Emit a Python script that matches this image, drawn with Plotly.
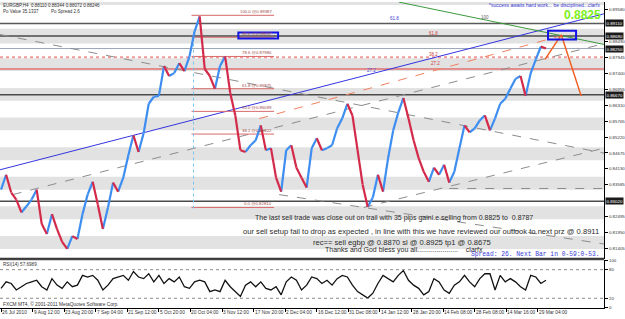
import plotly.graph_objects as go

# ---------------- texts ----------------
HEADER = "EURGBP,H4  0.88110 0.88344 0.88072 0.88246"
PO_VALUE = "Po Value 35.1337"
PO_SPREAD = "Po Spread 2.6"
MOTTO = "*success awaits hard work... be disciplined...clarfx"
BIG_PRICE = "0.8825"
MESSAGE = [
    "The last sell trade was close out on trail with 35 pips gaini.e selling from 0.8825 to  0.8787",
    "our sell setup fail to drop as expected , in line with this we have reviewed our outlook to next prz @ 0.8911",
    "rec== sell egbp @ 0.8870 sl @ 0.8925 tp1 @ 0.8675",
    "Thanks and God bless you all.....................    clarfx",
]
SPREAD = "Spread: 26. Next Bar in 0-59:0-53."
RSI_LABEL = "RSI(14) 57.6989"
COPYRIGHT = "FXCM MT4, \u00a9 2001-2011 MetaQuotes Software Corp."

# ---------------- series (H4 bar index from 26 Jul 2010) ----------------
bar_index = list(range(0, 1080, 10))
close = [
    0.8342, 0.8393, 0.8332, 0.8308, 0.8264, 0.8285, 0.8308, 0.8342, 0.8224, 0.8190,
    0.8258, 0.8207, 0.8163, 0.8139, 0.8183, 0.8173, 0.8258, 0.8325, 0.8369, 0.8291,
    0.8207, 0.8281, 0.8366, 0.8335, 0.8383, 0.8460, 0.8528, 0.8471, 0.8535, 0.8636,
    0.8660, 0.8663, 0.8765, 0.8731, 0.8741, 0.8775, 0.8748, 0.8798, 0.8883, 0.8935,
    0.8755, 0.8731, 0.8687, 0.8765, 0.8798, 0.8673, 0.8596, 0.8477, 0.8471, 0.8494,
    0.8511, 0.8562, 0.8477, 0.8484, 0.8383, 0.8335, 0.8477, 0.8494, 0.8417, 0.8383,
    0.8349, 0.8484, 0.8518, 0.8477, 0.8484, 0.8494, 0.8552, 0.8586, 0.8636, 0.8596,
    0.8477, 0.8359, 0.8283, 0.8315, 0.8393, 0.8335, 0.8450, 0.8545, 0.8606, 0.8656,
    0.8586, 0.8511, 0.8450, 0.8403, 0.8369, 0.8417, 0.8393, 0.8427, 0.8366, 0.8403,
    0.8484, 0.8562, 0.8538, 0.8552, 0.8579, 0.8596, 0.8545, 0.8586, 0.8636, 0.8653,
    0.8687, 0.8721, 0.8731, 0.8663, 0.8741, 0.8788, 0.8832, 0.8825,
]
rsi14 = [
    40.8, 54.4, 51.0, 37.4, 44.2, 51.0, 54.4, 57.8, 44.2, 37.4,
    61.2, 47.6, 40.8, 54.4, 44.2, 47.6, 68.0, 64.6, 68.0, 57.8,
    37.4, 47.6, 61.2, 64.6, 68.0, 57.8, 76.2, 64.6, 61.2, 71.4,
    54.4, 68.0, 51.0, 61.2, 54.4, 64.6, 44.2, 40.8, 54.4, 57.8,
    54.4, 34.0, 37.4, 34.0, 57.8, 44.2, 34.0, 23.8, 47.6, 54.4,
    44.2, 54.4, 40.8, 37.4, 44.2, 27.2, 54.4, 64.6, 57.8, 37.4,
    47.6, 64.6, 61.2, 51.0, 57.8, 47.6, 61.2, 68.0, 64.6, 47.6,
    34.0, 27.2, 20.4, 30.6, 51.0, 68.0, 61.2, 54.4, 68.0, 78.2,
    57.8, 47.6, 40.8, 27.2, 34.0, 61.2, 54.4, 37.4, 30.6, 47.6,
    54.4, 68.0, 54.4, 44.2, 61.2, 71.4, 71.4, 37.4, 68.0, 54.4,
    61.2, 54.4, 44.2, 37.4, 68.0, 64.6, 51.0, 57.7,
]

date_tick_bars = [0, 62, 124, 186, 248, 310, 372, 434, 496, 558, 620, 682,
                  744, 806, 868, 930, 992, 1054]
date_tick_labels = ["26 Jul 2010", "9 Aug 12:00", "23 Aug 20:00", "7 Sep 04:00",
                    "21 Sep 12:00", "5 Oct 20:00", "20 Oct 04:00", "3 Nov 12:00",
                    "17 Nov 20:00", "2 Dec 04:00", "16 Dec 12:00", "31 Dec 08:00",
                    "14 Jan 12:00", "28 Jan 20:00", "14 Feb 08:00", "28 Feb 08:00",
                    "14 Mar 16:00", "29 Mar 04:00"]

price_tick_vals = [0.89580, 0.88490, 0.87945, 0.87400, 0.86855, 0.86310, 0.85765,
                   0.85220, 0.84675, 0.84130, 0.83585, 0.82495, 0.81950, 0.81405]
rsi_tick_vals = [0, 20, 80, 100]
marked_levels = [0.8911, 0.8868, 0.8825, 0.8667, 0.8302]

zone_lows = [0.8139, 0.8241, 0.8342, 0.8443, 0.8545, 0.8646, 0.8748, 0.8842, 0.8974]
zone_highs = [0.8183, 0.8285, 0.8386, 0.8487, 0.8589, 0.8690, 0.8792, 0.8893, 0.9000]

level_prices = [0.8911, 0.8868, 0.8825, 0.8795, 0.8755, 0.8667, 0.8302]
level_styles = [("#5a5a5a", 1.5, "solid"), ("#4a4a4a", 1.5, "solid"), ("#9aa6b8", 1, "solid"),
                ("#f29a9a", 2, "dot"), ("#e23a3a", 1, "solid"), ("#4a4a4a", 1.5, "solid"),
                ("#4a4a4a", 1.5, "solid")]

fib_high = 0.89387
fib_low = 0.82810
fib_ratios = [100.0, 88.6, 78.6, 61.8, 50.0, 38.2, 0.0]
fib_bar_start, fib_bar_end = 374, 536

# trendlines: (bar0, price0, bar1, price1)
gray_lines = [(-2, 0.8873, 1184, 0.8467), (23, 0.8325, 1184, 0.8842),
              (712, 0.8281, 1184, 0.8484), (546, 0.8325, 1184, 0.8156),
              (880, 0.8346, 1184, 0.8346)]
blue_line = (-2, 0.8410, 1184, 0.8944)
green_line = (781, 0.8984, 1184, 0.8839)
orange_dash_line = (507, 0.8585, 1094, 0.8866)
orange_path_bars = [1068, 1100, 1139]
orange_path_prices = [0.8788, 0.8872, 0.8663]
target_box = (1074, 0.8856, 1129, 0.8886)
label_box = (466, 0.8859, 544, 0.8880)
fib_vline = (378, 0.8883, 378, 0.8274)

exp_labels = [("61.8", 772, 0.8927, "#3a3ad0"), ("100", 950, 0.8930, "#606060"),
              ("61.8", 849, 0.8876, "#d04040"), ("38.2", 849, 0.8805, "#d04040"),
              ("27.2", 853, 0.8774, "#d04040"), ("27.2", 728, 0.8751, "#5050d0")]

# ---------------- geometry ----------------
W, H = 625, 319
XDOM = [0, 606 / W]
PRICE_DOM = [1 - 260 / H, 1]
RSI_DOM = [1 - 310 / H, 1 - 261 / H]
SANS = "Liberation Sans, Arial, sans-serif"
MONO = "Liberation Mono, Courier New, monospace"


def px(x):
    return x / W


def py(y):
    return 1 - y / H


fig = go.Figure()

# price path coloured by direction
ux, uy, dx, dy = [], [], [], []
for i in range(1, len(close)):
    if close[i] >= close[i - 1]:
        ux += [bar_index[i - 1], bar_index[i], None]
        uy += [close[i - 1], close[i], None]
    else:
        dx += [bar_index[i - 1], bar_index[i], None]
        dy += [close[i - 1], close[i], None]
fig.add_trace(go.Scatter(x=ux, y=uy, mode="lines", line=dict(color="#3d8ef0", width=2.2),
                         xaxis="x", yaxis="y", hoverinfo="skip", showlegend=False))
fig.add_trace(go.Scatter(x=dx, y=dy, mode="lines", line=dict(color="#d42a4a", width=2.2),
                         xaxis="x", yaxis="y", hoverinfo="skip", showlegend=False))

# orange projection path
fig.add_trace(go.Scatter(x=orange_path_bars, y=orange_path_prices, mode="lines",
                         line=dict(color="#f06020", width=1.5), xaxis="x", yaxis="y",
                         hoverinfo="skip", showlegend=False))

# RSI
fig.add_trace(go.Scatter(x=bar_index, y=rsi14, mode="lines", line=dict(color="#111111", width=1.3),
                         xaxis="x", yaxis="y2", hoverinfo="skip", showlegend=False))

shapes = []
for lo, hi in zip(zone_lows, zone_highs):
    shapes.append(dict(type="rect", xref="x domain", x0=0, x1=1, yref="y", y0=lo, y1=hi,
                       fillcolor="#e2e2e2", line_width=0, layer="below"))
for v, (c, w, d) in zip(level_prices, level_styles):
    shapes.append(dict(type="line", xref="x domain", x0=0, x1=1, yref="y", y0=v, y1=v,
                       line=dict(color=c, width=w, dash=d), layer="below"))
for (b0, p0, b1, p1) in gray_lines:
    shapes.append(dict(type="line", xref="x", yref="y", x0=b0, y0=p0, x1=b1, y1=p1,
                       line=dict(color="#8c8c8c", width=1, dash="dash"), layer="below"))
for (b0, p0, b1, p1), c, d in [(blue_line, "#3434e0", "solid"), (green_line, "#3c9a3c", "solid"),
                               (orange_dash_line, "#f08060", "dash")]:
    shapes.append(dict(type="line", xref="x", yref="y", x0=b0, y0=p0, x1=b1, y1=p1,
                       line=dict(color=c, width=1, dash=d), layer="below"))
# fibonacci
fib_levels = [fib_low + r / 100.0 * (fib_high - fib_low) for r in fib_ratios]
for lv in fib_levels:
    shapes.append(dict(type="line", xref="x", yref="y", x0=fib_bar_start, x1=fib_bar_end,
                       y0=lv, y1=lv, line=dict(color="#d86a6a", width=1), layer="below"))
b0, p0, b1, p1 = fib_vline
shapes.append(dict(type="line", xref="x", yref="y", x0=b0, y0=p0, x1=b1, y1=p1,
                   line=dict(color="#7cc4f0", width=1, dash="dot"), layer="below"))
for (b0, p0, b1, p1) in [target_box, label_box]:
    shapes.append(dict(type="rect", xref="x", yref="y", x0=b0, y0=p0, x1=b1, y1=p1,
                       line=dict(color="#1414e6", width=2), fillcolor="rgba(0,0,0,0)"))
# RSI levels
for lv in [20, 80]:
    shapes.append(dict(type="line", xref="x domain", x0=0, x1=1, yref="y2", y0=lv, y1=lv,
                       line=dict(color="#8c8c8c", width=1, dash="dot")))
# panel separator
shapes.append(dict(type="line", xref="x domain", x0=0, x1=1, yref="y domain", y0=0, y1=0,
                   line=dict(color="#3a3a3a", width=2)))
shapes.append(dict(type="line", xref="x domain", x0=0, x1=1, yref="y2 domain", y0=1, y1=1,
                   line=dict(color="#3a3a3a", width=1)))

ann = []


def text(t, x, y, size, color, xa="left", ya="middle", family=SANS, bold=False, bg=None):
    d = dict(text=("<b>%s</b>" % t) if bold else t, x=px(x), y=py(y), xref="paper", yref="paper",
             xanchor=xa, yanchor=ya, showarrow=False,
             font=dict(size=size, color=color, family=family), borderpad=0)
    if bg:
        d["bgcolor"] = bg
    ann.append(d)


text(HEADER, 2, 4, 4.5, "#333333")
text(PO_VALUE, 2, 10, 4.5, "#333333")
text(PO_SPREAD, 50, 10, 4.5, "#333333")
text(MOTTO, 603, 3.5, 5, "#3333cc", xa="right")
text(BIG_PRICE, 584, 13.5, 12, "#7cf020", xa="center", bold=True)
msg_pos = [(255, 219), (243, 232), (313, 244), (325, 251)]
msg_size = [7, 7.6, 7.6, 7]
for t, (x, y), s in zip(MESSAGE, msg_pos, msg_size):
    text(t, x, y, s, "#2a2a2a")
text(SPREAD, 472, 256, 6.3, "#3c3cd8", family=MONO)
text(RSI_LABEL, 2, 266, 4.6, "#333333")
text(COPYRIGHT, 2, 306, 4.8, "#333333")

for r, lv in zip(fib_ratios, fib_levels):
    ann.append(dict(text="%.1f @%.5f" % (r, lv), x=fib_bar_end - 2, y=lv, xref="x", yref="y",
                    xanchor="right", yanchor="bottom", showarrow=False, borderpad=0,
                    font=dict(size=4.3, color="#a04848", family=SANS)))
for t, b, p, c in exp_labels:
    ann.append(dict(text=t, x=b, y=p, xref="x", yref="y", xanchor="center", yanchor="middle",
                    showarrow=False, borderpad=0, font=dict(size=4.5, color=c, family=SANS)))

for b, lab in zip(date_tick_bars, date_tick_labels):
    ann.append(dict(text=lab, x=b, y=py(314.5), xref="x", yref="paper", xanchor="left",
                    yanchor="middle", showarrow=False, borderpad=0,
                    font=dict(size=4.8, color="#333333", family=SANS)))

for v in marked_levels:
    ann.append(dict(text="%.5f" % v, x=px(607), y=v, xref="paper", yref="y", xanchor="left",
                    yanchor="middle", showarrow=False, bgcolor="#1a1a1a", borderpad=0.5,
                    font=dict(size=4.4, color="#ffffff", family=SANS)))

fig.update_layout(
    width=W, height=H, margin=dict(l=0, r=0, t=0, b=0),
    paper_bgcolor="#ffffff", plot_bgcolor="#ffffff", showlegend=False,
    shapes=shapes, annotations=ann,
    xaxis=dict(domain=XDOM, range=[-2, 1184], anchor="y2", showgrid=False, zeroline=False,
               showline=True, linecolor="#000000", linewidth=1, ticks="outside", ticklen=3,
               tickcolor="#000000", tickvals=date_tick_bars, showticklabels=False),
    yaxis=dict(domain=PRICE_DOM, range=[0.81055, 0.89843], anchor="x", side="right",
               showgrid=False, zeroline=False, showline=True, linecolor="#000000", linewidth=1,
               ticks="outside", ticklen=3, tickcolor="#000000", tickvals=price_tick_vals,
               ticktext=["%.5f" % v for v in price_tick_vals],
               tickfont=dict(size=4.4, color="#333333", family=SANS)),
    yaxis2=dict(domain=RSI_DOM, range=[-0.6, 100.8], anchor="x", side="right",
                showgrid=False, zeroline=False, showline=True, linecolor="#000000", linewidth=1,
                ticks="outside", ticklen=3, tickcolor="#000000", tickvals=rsi_tick_vals,
                ticktext=[str(v) for v in rsi_tick_vals],
                tickfont=dict(size=4.4, color="#333333", family=SANS)),
)

fig.write_html("out.html")
